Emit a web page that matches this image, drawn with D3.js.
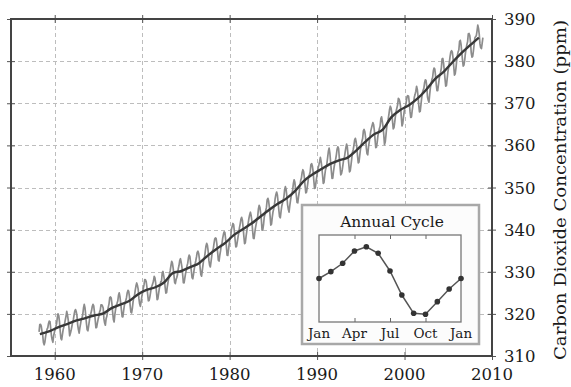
<!DOCTYPE html>
<html><head><meta charset="utf-8">
<script src="https://cdn.jsdelivr.net/npm/d3@7"></script>
<style>
html,body{margin:0;padding:0;background:#fff;}
svg{display:block;}
text{font-family:"DejaVu Serif",serif;fill:#1a1a1a;}
</style></head>
<body><svg id="chart" width="571" height="387"></svg>
<script>
// ---- data ----
const xTickLabels = [1960, 1970, 1980, 1990, 2000, 2010];
const yTickLabels = [310, 320, 330, 340, 350, 360, 370, 380, 390];
const co2Years = [1958,1959,1960,1961,1962,1963,1964,1965,1966,1967,1968,1969,1970,1971,1972,1973,1974,1975,1976,1977,1978,1979,1980,1981,1982,1983,1984,1985,1986,1987,1988,1989,1990,1991,1992,1993,1994,1995,1996,1997,1998,1999,2000,2001,2002,2003,2004,2005,2006,2007,2008];
const co2Monthly = [
[null,null,315.71,317.45,317.50,317.10,315.86,314.93,313.20,312.66,313.33,314.67],
[315.62,316.38,316.71,317.72,318.29,318.15,316.54,314.80,313.84,313.26,314.80,315.58],
[316.43,316.97,317.58,319.02,320.03,319.59,318.18,315.91,314.16,313.83,315.00,316.19],
[316.93,317.70,318.54,319.48,320.58,319.77,318.57,316.79,314.80,315.38,316.10,317.01],
[317.94,318.56,319.68,320.63,321.01,320.55,319.58,317.40,316.26,315.42,316.69,317.69],
[318.74,319.08,319.86,321.39,322.25,321.47,319.74,317.77,316.21,315.99,317.12,318.31],
[319.57,320.07,320.73,321.77,322.25,321.89,320.44,318.70,316.70,316.79,317.79,318.71],
[319.44,320.44,320.89,322.13,322.16,321.87,321.39,318.80,317.81,317.30,318.87,319.42],
[320.62,321.59,322.39,323.87,324.01,323.75,322.39,320.37,318.64,318.10,319.79,321.08],
[322.07,322.50,323.04,324.42,325.00,324.09,322.55,320.92,319.31,319.31,320.72,321.96],
[322.57,323.15,323.89,325.02,325.57,325.36,324.14,322.03,320.41,320.25,321.31,322.84],
[324.00,324.42,325.64,326.66,327.34,326.76,325.88,323.67,322.38,321.78,322.85,324.12],
[325.03,325.99,326.87,328.13,328.07,327.66,326.35,324.69,323.10,323.16,323.98,325.13],
[326.17,326.68,327.18,327.78,328.92,328.57,327.34,325.46,323.36,323.57,324.80,326.01],
[326.77,327.63,327.75,329.72,330.07,329.09,328.05,326.32,324.93,325.06,326.50,327.55],
[328.54,329.56,330.30,331.50,332.48,332.07,330.87,329.31,327.51,327.18,328.16,328.64],
[329.35,330.71,331.48,332.65,333.09,332.25,331.18,329.40,327.43,327.37,328.46,329.57],
[330.40,331.40,332.04,333.31,333.96,333.59,331.91,330.06,328.56,328.34,329.49,330.76],
[331.75,332.56,333.50,334.58,334.87,334.34,333.05,330.94,329.30,328.94,330.31,331.68],
[332.93,333.42,334.70,336.07,336.74,336.27,334.93,332.75,331.58,331.16,332.40,333.85],
[334.97,335.39,336.64,337.76,338.01,337.89,336.54,334.68,332.76,332.54,333.92,334.95],
[336.23,336.76,337.96,338.89,339.47,339.29,337.73,336.09,333.91,333.86,335.29,336.73],
[338.01,338.36,340.08,340.77,341.46,341.17,339.56,337.60,335.88,336.01,337.10,338.21],
[339.23,340.47,341.38,342.51,342.91,342.25,340.49,338.43,336.69,336.86,338.36,339.61],
[340.75,341.61,342.70,343.56,344.13,343.35,342.06,339.82,337.97,337.86,339.26,340.49],
[341.38,342.52,343.10,344.94,345.75,345.32,343.99,342.39,339.86,339.99,341.16,342.99],
[343.70,344.51,345.28,347.08,347.43,346.79,345.40,343.28,341.07,341.35,342.98,344.22],
[344.97,345.99,347.42,348.35,348.93,348.25,346.56,344.67,343.09,342.80,344.24,345.56],
[346.30,346.95,347.85,349.55,350.21,349.55,347.94,345.90,344.85,344.17,345.66,346.90],
[348.02,348.47,349.42,350.99,351.84,351.25,349.52,348.10,346.44,346.36,347.81,348.96],
[350.43,351.72,352.22,353.59,354.22,353.79,352.39,350.44,348.72,348.88,350.07,351.34],
[352.76,353.07,353.68,355.42,355.67,355.12,353.90,351.67,349.80,349.99,351.30,352.52],
[353.66,354.70,355.39,356.20,357.16,356.22,354.82,352.91,350.96,351.18,352.83,354.21],
[354.72,355.75,357.16,358.60,359.34,358.24,356.17,354.03,352.16,352.21,353.75,354.99],
[355.98,356.72,357.81,359.15,359.66,359.25,357.02,355.00,353.01,353.31,354.16,355.40],
[356.70,357.16,358.38,359.46,360.28,359.60,357.57,355.52,353.70,353.98,355.33,356.80],
[358.36,358.91,359.97,361.26,361.69,360.94,359.55,357.49,355.84,356.00,357.58,359.04],
[359.97,361.00,361.64,363.45,363.79,363.26,361.90,359.46,358.06,357.75,359.56,360.70],
[362.05,363.25,364.03,364.72,365.41,364.97,363.65,361.49,359.46,359.60,360.76,362.33],
[363.18,364.00,364.57,366.35,366.79,365.62,364.47,362.51,360.19,360.77,362.43,364.28],
[365.32,366.15,367.31,368.61,369.29,368.87,367.64,365.77,363.90,364.23,365.46,366.97],
[368.15,368.87,369.59,371.14,371.00,370.35,369.27,366.94,364.63,365.12,366.67,368.01],
[369.14,369.46,370.52,371.66,371.82,371.70,370.12,368.12,366.62,366.73,368.29,369.53],
[370.28,371.50,372.12,372.87,374.02,373.30,371.62,369.55,367.96,368.09,369.68,371.24],
[372.44,373.08,373.52,374.85,375.55,375.40,374.02,371.48,370.71,370.25,372.08,373.78],
[374.68,375.62,376.11,377.65,378.35,378.13,376.62,374.50,372.99,373.00,374.35,375.70],
[376.79,377.37,378.41,380.52,380.63,379.57,377.79,375.86,374.06,374.24,375.86,377.48],
[378.47,379.76,381.14,382.20,382.47,382.20,380.78,378.73,376.66,376.98,378.29,380.07],
[381.36,382.19,382.65,384.65,384.94,384.01,382.15,380.33,378.81,379.06,380.17,381.85],
[382.89,383.90,384.58,386.50,386.56,386.10,384.50,381.99,380.96,381.12,382.45,383.95],
[385.52,385.82,386.03,387.21,388.54,387.76,386.36,384.09,383.18,382.99,384.19,385.56]
];
const trendYears = [1958.3,1958.8,1959.5,1960.5,1961.5,1962.5,1963.5,1964.5,1965.5,1966.5,1967.5,1968.5,1969.5,1970.5,1971.5,1972.5,1973.5,1974.5,1975.5,1976.5,1977.5,1978.5,1979.5,1980.5,1981.5,1982.5,1983.5,1984.5,1985.5,1986.5,1987.5,1988.5,1989.5,1990.5,1991.5,1992.5,1993.5,1994.5,1995.5,1996.5,1997.5,1998.5,1999.5,2000.5,2001.5,2002.5,2003.5,2004.5,2005.5,2006.5,2007.5,2008.5];
const trendValues = [315.2,315.5,315.97,316.91,317.64,318.45,318.99,319.62,320.04,321.37,322.18,323.05,324.62,325.68,326.32,327.45,329.68,330.18,331.11,332.04,333.83,335.40,336.84,338.75,340.11,341.45,343.05,344.65,346.12,347.42,349.19,351.57,353.12,354.39,355.61,356.45,357.10,358.83,360.82,362.61,363.73,366.70,368.38,369.55,371.14,373.28,375.80,377.52,379.80,381.90,383.79,385.60];
const cycleMonths = ["Jan","Feb","Mar","Apr","May","Jun","Jul","Aug","Sep","Oct","Nov","Dec","Jan2"];
const cycleValues = [0.0,0.63,1.40,2.53,2.92,2.32,0.69,-1.52,-3.20,-3.29,-2.13,-0.97,0.0];
const cycleTickLabels = ["Jan","Apr","Jul","Oct","Jan"];
const cycleTitle = "Annual Cycle";
const yAxisTitle = "Carbon Dioxide Concentration (ppm)";

// ---- layout ----
const svg = d3.select("#chart");
const L = 11, T = 19, R = 492, B = 356;
const x = d3.scaleLinear().domain([1955, 2010]).range([L, R]);
const y = d3.scaleLinear().domain([310, 390]).range([B, T]);

// gridlines
const grid = svg.append("g").attr("stroke", "#bdbdbd").attr("stroke-width", 1).attr("stroke-dasharray", "4,3");
grid.selectAll("line.v").data(xTickLabels.slice(0, -1)).join("line")
  .attr("x1", d => Math.round(x(d)) + 0.5).attr("x2", d => Math.round(x(d)) + 0.5)
  .attr("y1", T).attr("y2", B);
grid.selectAll("line.h").data(yTickLabels.slice(1, -1)).join("line")
  .attr("y1", d => Math.round(y(d)) + 0.5).attr("y2", d => Math.round(y(d)) + 0.5)
  .attr("x1", L).attr("x2", R);

// monthly series
const monthly = [];
co2Years.forEach((yr, i) => co2Monthly[i].forEach((v, m) => {
  if (v != null) monthly.push({t: yr + (m + 0.5) / 12, v});
}));
const line = d3.line().x(d => x(d.t)).y(d => y(d.v));
svg.append("path").datum(monthly).attr("d", line)
  .attr("fill", "none").attr("stroke", "#8c8c8c").attr("stroke-width", 1.7).attr("stroke-linejoin", "round");

// trend
const trend = trendYears.map((t, i) => ({t, v: trendValues[i]}));
svg.append("path").datum(trend).attr("d", line.curve(d3.curveMonotoneX))
  .attr("fill", "none").attr("stroke", "#383838").attr("stroke-width", 2.4).attr("stroke-linejoin", "round");

// axes (ticks on all sides, both in and out)
const tickLen = 4;
[[d3.axisBottom(x).tickValues(xTickLabels), `translate(0,${B})`],
 [d3.axisTop(x).tickValues(xTickLabels), `translate(0,${T})`],
 [d3.axisLeft(y).tickValues(yTickLabels), `translate(${L},0)`],
 [d3.axisRight(y).tickValues(yTickLabels), `translate(${R},0)`]].forEach(([ax, tr]) => {
  [tickLen, -tickLen].forEach(s => {
    const g = svg.append("g").attr("transform", tr).call(ax.tickSize(s).tickFormat(""));
    g.select(".domain").remove();
    g.selectAll(".tick line").attr("stroke", "#555").attr("stroke-width", 1);
  });
});

// frame
svg.append("rect").attr("x", L).attr("y", T).attr("width", R - L).attr("height", B - T)
  .attr("fill", "none").attr("stroke", "#444").attr("stroke-width", 2);

// tick labels
svg.append("g").selectAll("text").data(xTickLabels).join("text")
  .attr("x", d => x(d)).attr("y", 380).attr("text-anchor", "middle")
  .attr("font-size", 16.5).text(d => d);
svg.append("g").selectAll("text").data(yTickLabels).join("text")
  .attr("x", 504).attr("y", d => y(d) + 6).attr("text-anchor", "start")
  .attr("font-size", 16.5).text(d => d);

// y-axis title
svg.append("text").attr("transform", "translate(566,190) rotate(-90)")
  .attr("text-anchor", "middle").attr("font-size", 17)
  .attr("textLength", 340).attr("lengthAdjust", "spacingAndGlyphs").text(yAxisTitle);

// ---- inset ----
const iox = 302, ioy = 205, iow = 177, ioh = 139;
svg.append("rect").attr("x", iox).attr("y", ioy).attr("width", iow).attr("height", ioh)
  .attr("fill", "#fcfcfc").attr("stroke", "#a8a8a8").attr("stroke-width", 2.5);
const iL = 319, iT = 235, iR = 461, iB = 322;
svg.append("rect").attr("x", iL).attr("y", iT).attr("width", iR - iL).attr("height", iB - iT)
  .attr("fill", "#fff").attr("stroke", "#777").attr("stroke-width", 1.3);
const ix = d3.scalePoint().domain(cycleMonths).range([iL, iR]);
const iy = d3.scaleLinear().domain([-4, 4]).range([iB, iT]);
const tickMonths = ["Apr", "Jul", "Oct"];
const itB = svg.append("g").attr("transform", `translate(0,${iB})`)
  .call(d3.axisBottom(ix).tickValues(tickMonths).tickSize(-4).tickFormat(""));
const itT = svg.append("g").attr("transform", `translate(0,${iT})`)
  .call(d3.axisTop(ix).tickValues(tickMonths).tickSize(-4).tickFormat(""));
[itB, itT].forEach(g => { g.select(".domain").remove(); g.selectAll(".tick line").attr("stroke", "#666"); });
const cyc = cycleMonths.map((m, i) => ({m, v: cycleValues[i]}));
svg.append("path").datum(cyc)
  .attr("d", d3.line().x(d => ix(d.m)).y(d => iy(d.v)))
  .attr("fill", "none").attr("stroke", "#555").attr("stroke-width", 1.5);
svg.append("g").selectAll("circle").data(cyc).join("circle")
  .attr("cx", d => ix(d.m)).attr("cy", d => iy(d.v)).attr("r", 2.8).attr("fill", "#333");
svg.append("text").attr("x", 392).attr("y", 227).attr("text-anchor", "middle")
  .attr("font-size", 15.5).text(cycleTitle);
const labelMonths = ["Jan", "Apr", "Jul", "Oct", "Jan2"];
svg.append("g").selectAll("text").data(cycleTickLabels).join("text")
  .attr("x", (d, i) => ix(labelMonths[i])).attr("y", 338).attr("text-anchor", "middle")
  .attr("font-size", 13.5).text(d => d);
</script></body></html>
